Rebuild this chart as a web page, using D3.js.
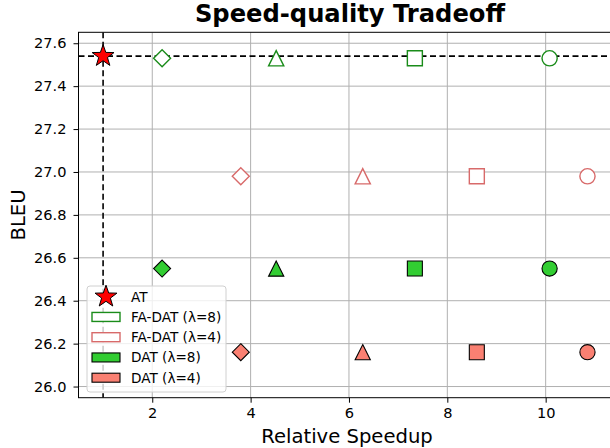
<!DOCTYPE html>
<html>
<head>
<meta charset="utf-8">
<script src="https://cdn.jsdelivr.net/npm/d3@7"></script>
<style>
    body { margin: 0; background: #fff; }
    svg { display: block; font-family: "DejaVu Sans", sans-serif; }
</style>
</head>
<body>
<svg id="chart" width="610" height="448"></svg>
<script>
// data
const atSpeedup = 1.0;
const atBleu = 27.54;
const markerShapes = ["diamond", "triangle", "square", "circle"];
const speedupLambda8 = [2.20, 4.52, 7.34, 10.08];
const speedupLambda4 = [3.80, 6.28, 8.60, 10.85];
const bleuFaDat8 = [27.53, 27.53, 27.53, 27.53];
const bleuFaDat4 = [26.98, 26.98, 26.98, 26.98];
const bleuDat8 = [26.55, 26.55, 26.55, 26.55];
const bleuDat4 = [26.16, 26.16, 26.16, 26.16];
const xTicks = [2, 4, 6, 8, 10];
const yTicks = [26.0, 26.2, 26.4, 26.6, 26.8, 27.0, 27.2, 27.4, 27.6];
const legendLabels = ["AT", "FA-DAT (λ=8)", "FA-DAT (λ=4)", "DAT (λ=8)", "DAT (λ=4)"];

const GREEN = "#1a8c1a";
const LIME = "#32cd32";
const SALMON = "#fa8072";
const SALMON_EDGE = "#d86a6a";

let svg = d3.select("#chart");

// axes box (right spine falls just outside the picture)
let plotLeft = 78.5, plotRight = 615.5, plotTop = 32.3, plotBottom = 397.7;

let x = d3.scaleLinear().domain([0.5, 11.42]).range([plotLeft, plotRight]);
let y = d3.scaleLinear().domain([25.948, 27.651]).range([plotBottom, plotTop]);

// marker path generator (matplotlib-like shapes)
let markerPath = function(shape, s) {
    if (shape === "diamond") {
        return "M0," + (-s) + "L" + s + ",0L0," + s + "L" + (-s) + ",0Z";
    } else if (shape === "square") {
        return "M" + (-s) + "," + (-s) + "H" + s + "V" + s + "H" + (-s) + "Z";
    } else if (shape === "triangle") {
        return "M0," + (-s) + "L" + s + "," + s + "L" + (-s) + "," + s + "Z";
    } else if (shape === "star") {
        let pts = [];
        for (let i = 0; i < 10; i++) {
            let r = i % 2 === 0 ? s : s * 0.4;
            let a = -Math.PI / 2 + i * Math.PI / 5;
            pts.push([r * Math.cos(a), r * Math.sin(a)]);
        }
        return "M" + pts.map(p => p[0].toFixed(2) + "," + p[1].toFixed(2)).join("L") + "Z";
    }
    // circle
    return "M" + s + ",0A" + s + "," + s + " 0 1,1 " + (-s) + ",0A" + s + "," + s + " 0 1,1 " + s + ",0Z";
};

let markerSize = { diamond: 8.5, triangle: 7.6, square: 7.5, circle: 7.6 };

svg.append("clipPath").attr("id", "plotclip")
    .append("rect")
    .attr("x", plotLeft).attr("y", plotTop)
    .attr("width", plotRight - plotLeft).attr("height", plotBottom - plotTop);

// grid
let grid = svg.append("g").attr("clip-path", "url(#plotclip)");
grid.selectAll(".gx")
    .data(xTicks)
    .join("line")
    .attr("class", "gx")
    .attr("x1", d => x(d)).attr("x2", d => x(d))
    .attr("y1", plotTop).attr("y2", plotBottom)
    .style("stroke", "#b0b0b0")
    .style("stroke-width", 1);
grid.selectAll(".gy")
    .data(yTicks)
    .join("line")
    .attr("class", "gy")
    .attr("x1", plotLeft).attr("x2", plotRight)
    .attr("y1", d => y(d)).attr("y2", d => y(d))
    .style("stroke", "#b0b0b0")
    .style("stroke-width", 1);

// AT reference lines
let refLines = svg.append("g").attr("clip-path", "url(#plotclip)");
refLines.append("line")
    .attr("x1", plotLeft).attr("x2", plotRight)
    .attr("y1", y(atBleu)).attr("y2", y(atBleu))
    .style("stroke", "#000").style("stroke-width", 1.6)
    .style("stroke-dasharray", "6,3.5");
refLines.append("line")
    .attr("x1", x(atSpeedup)).attr("x2", x(atSpeedup))
    .attr("y1", plotTop).attr("y2", plotBottom)
    .style("stroke", "#000").style("stroke-width", 1.6)
    .style("stroke-dasharray", "6,3.5");

// series
let series = [
    { xs: speedupLambda8, ys: bleuFaDat8, fill: "#fff", stroke: GREEN, width: 1.4 },
    { xs: speedupLambda4, ys: bleuFaDat4, fill: "#fff", stroke: SALMON_EDGE, width: 1.4 },
    { xs: speedupLambda8, ys: bleuDat8, fill: LIME, stroke: "#000", width: 1.1 },
    { xs: speedupLambda4, ys: bleuDat4, fill: SALMON, stroke: "#000", width: 1.1 }
];

let marks = svg.append("g");
series.forEach(function(s) {
    let pts = s.xs.map((v, i) => ({ x: v, y: s.ys[i], shape: markerShapes[i] }));
    marks.append("g").selectAll("path")
        .data(pts)
        .join("path")
        .attr("transform", d => "translate(" + x(d.x) + "," + y(d.y) + ")")
        .attr("d", d => markerPath(d.shape, markerSize[d.shape]))
        .style("fill", s.fill)
        .style("stroke", s.stroke)
        .style("stroke-width", s.width);
});

marks.append("path")
    .attr("transform", "translate(" + x(atSpeedup) + "," + y(atBleu) + ")")
    .attr("d", markerPath("star", 11.5))
    .style("fill", "red")
    .style("stroke", "#000")
    .style("stroke-width", 1);

// axes
let xAxis = d3.axisBottom(x).tickValues(xTicks).tickSize(5).tickPadding(5).tickFormat(d3.format("d"));
let yAxis = d3.axisLeft(y).tickValues(yTicks).tickSize(5).tickPadding(7).tickFormat(d3.format(".1f"));

svg.append("g")
    .attr("transform", "translate(0," + plotBottom + ")")
    .call(xAxis)
    .call(g => g.select(".domain").remove())
    .selectAll("text")
    .style("font-size", "14.6px")
    .style("font-family", "DejaVu Sans")
    .style("fill", "#000");

svg.append("g")
    .attr("transform", "translate(" + plotLeft + ",0)")
    .call(yAxis)
    .call(g => g.select(".domain").remove())
    .selectAll("text")
    .style("font-size", "14.6px")
    .style("font-family", "DejaVu Sans")
    .style("fill", "#000");

// spines
svg.append("rect")
    .attr("x", plotLeft).attr("y", plotTop)
    .attr("width", plotRight - plotLeft).attr("height", plotBottom - plotTop)
    .style("fill", "none")
    .style("stroke", "#000")
    .style("stroke-width", 1);

// labels
svg.append("text")
    .attr("x", (plotLeft + plotRight) / 2 + 3).attr("y", 22)
    .attr("text-anchor", "middle")
    .style("font-size", "24.2px")
    .style("font-weight", "bold")
    .text("Speed-quality Tradeoff");

svg.append("text")
    .attr("x", (plotLeft + plotRight) / 2).attr("y", 443)
    .attr("text-anchor", "middle")
    .style("font-size", "19.6px")
    .text("Relative Speedup");

svg.append("text")
    .attr("transform", "translate(25," + ((plotTop + plotBottom) / 2) + ") rotate(-90)")
    .attr("text-anchor", "middle")
    .style("font-size", "19.6px")
    .text("BLEU");

// legend
let legend = svg.append("g");
legend.append("rect")
    .attr("x", 87).attr("y", 286)
    .attr("width", 139).attr("height", 106)
    .attr("rx", 3)
    .style("fill", "#fff").style("fill-opacity", 0.8)
    .style("stroke", "#d0d0d0").style("stroke-width", 1);

let rowY = d3.scalePoint().domain(legendLabels).range([296.7, 377.7]);
let handleStyles = [null].concat(series);

legendLabels.forEach(function(label, i) {
    let cy = rowY(label);
    if (i === 0) {
        legend.append("path")
            .attr("transform", "translate(106," + cy + ")")
            .attr("d", markerPath("star", 11.5))
            .style("fill", "red").style("stroke", "#000").style("stroke-width", 1);
    } else {
        let h = handleStyles[i];
        legend.append("rect")
            .attr("x", 92).attr("y", cy - 4.5)
            .attr("width", 28).attr("height", 9)
            .style("fill", h.fill)
            .style("stroke", h.stroke)
            .style("stroke-width", h.width);
    }
    legend.append("text")
        .attr("x", 131).attr("y", cy)
        .attr("dy", "0.36em")
        .style("font-size", "13.6px")
        .text(label);
});
</script>
</body>
</html>
